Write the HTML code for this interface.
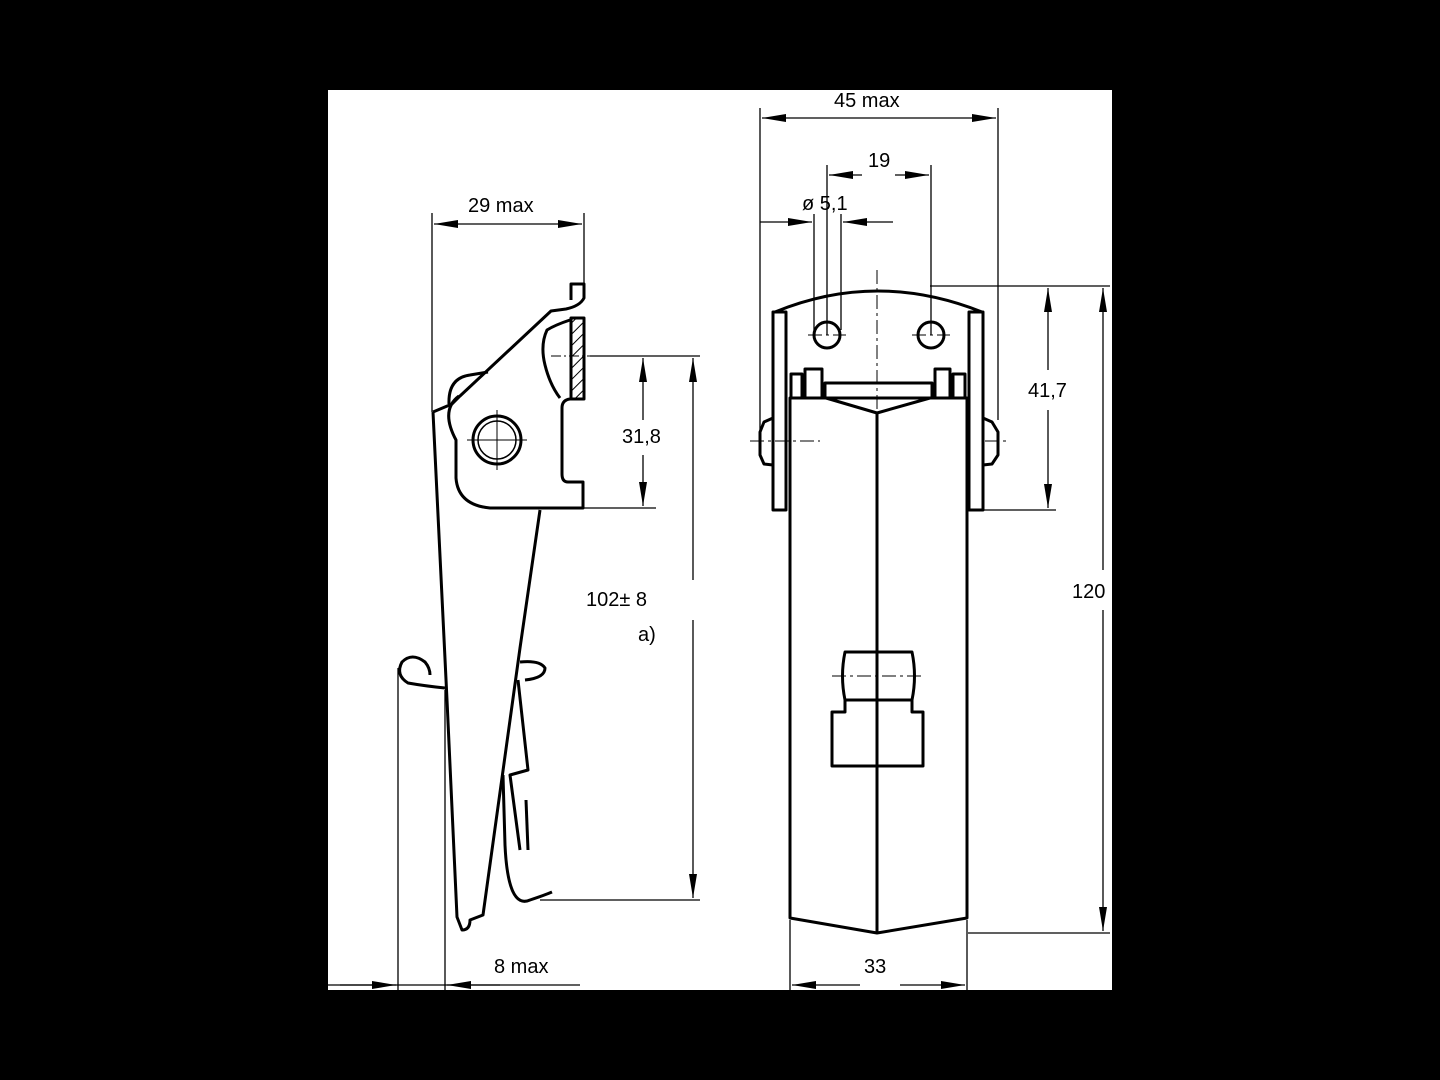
<!DOCTYPE html>
<html><head><meta charset="utf-8"><style>
html,body{margin:0;padding:0;background:#000;}
svg{display:block}
text{font-family:"Liberation Sans",sans-serif;font-size:20px;fill:#000}
</style></head><body>
<svg width="1440" height="1080" viewBox="0 0 1440 1080" xmlns="http://www.w3.org/2000/svg">
<defs>
<marker id="a" markerWidth="24" markerHeight="10" refX="24" refY="5" orient="auto" markerUnits="userSpaceOnUse"><path d="M0,1 L24,5 L0,9 Z" fill="#000"/></marker>
<pattern id="h" width="8" height="8" patternUnits="userSpaceOnUse" patternTransform="rotate(45)"><line x1="0" y1="0" x2="0" y2="8" stroke="#000" stroke-width="2"/></pattern>
</defs>
<rect x="0" y="0" width="1440" height="1080" fill="#000"/>
<rect x="328" y="90" width="784" height="900" fill="#fff"/>
<g fill="none" stroke="#000" stroke-width="1.3">
<!-- left dims -->
<line x1="432" y1="213" x2="432" y2="412"/>
<line x1="584" y1="213" x2="584" y2="290"/>
<line x1="508" y1="224" x2="434" y2="224" marker-end="url(#a)"/>
<line x1="508" y1="224" x2="582" y2="224" marker-end="url(#a)"/>
<line x1="590" y1="356" x2="700" y2="356"/>
<line x1="583" y1="508" x2="656" y2="508"/>
<line x1="540" y1="900" x2="700" y2="900"/>
<line x1="643" y1="420" x2="643" y2="358" marker-end="url(#a)"/>
<line x1="643" y1="455" x2="643" y2="506" marker-end="url(#a)"/>
<line x1="693" y1="580" x2="693" y2="358" marker-end="url(#a)"/>
<line x1="693" y1="620" x2="693" y2="898" marker-end="url(#a)"/>
<line x1="328" y1="985" x2="580" y2="985"/>
<line x1="340" y1="985" x2="396" y2="985" marker-end="url(#a)"/>
<line x1="500" y1="985" x2="447" y2="985" marker-end="url(#a)"/>
<line x1="398" y1="668" x2="398" y2="990"/>
<line x1="445" y1="690" x2="445" y2="990"/>
</g>
<g fill="none" stroke="#000" stroke-width="3" stroke-linejoin="round">
<!-- left body -->
<path d="M433,412 L452,404 L460,396 L551,311 L566,309 Q580,306 584,298 L584,284 L571,284 L571,300"/>
<path d="M433,412 L447,700 L457,917 L462,930 Q470,930 470,920 L483,915 L520,648 L540,510"/>
<path d="M459,396 Q440,410 456,440 L456,478 Q458,505 490,508 L583,508 L583,482 L568,482 Q562,482 562,474 L562,408 Q562,400 570,399 L584,399 L584,318 L571,318 L571,399"/>
<path d="M570,320 Q555,325 547,330 Q540,345 545,365 Q550,385 560,398"/>
<path d="M449,404 Q448,378 470,375 L488,372"/>
<circle cx="497" cy="440" r="24"/>
<circle cx="497" cy="440" r="19" stroke-width="1.5"/>
<!-- springs and hooks -->
<path d="M445,688 Q425,686 408,683 Q395,675 402,662 Q412,652 425,662 Q430,668 430,675"/>
<path d="M520,662 Q540,660 545,668 Q545,678 525,680"/>
<path d="M503,775 L505,845 Q508,910 530,900 Q545,895 552,892"/>
<path d="M518,680 L528,770 L510,775 L520,850"/>
<path d="M526,800 L528,850"/>
</g>
<rect x="571" y="318" width="13" height="81" fill="url(#h)" stroke="#000" stroke-width="2"/>
<g stroke="#000" stroke-width="1" fill="none">
<line x1="467" y1="440" x2="527" y2="440"/><line x1="497" y1="410" x2="497" y2="470"/>
<line x1="551" y1="356" x2="590" y2="356" stroke-dasharray="10,3,2,3"/>
</g>
<!-- right dims -->
<g fill="none" stroke="#000" stroke-width="1.3">
<line x1="760" y1="108" x2="760" y2="440"/>
<line x1="998" y1="108" x2="998" y2="420"/>
<line x1="878" y1="118" x2="762" y2="118" marker-end="url(#a)"/>
<line x1="878" y1="118" x2="996" y2="118" marker-end="url(#a)"/>
<line x1="827" y1="165" x2="827" y2="335"/>
<line x1="931" y1="165" x2="931" y2="335"/>
<line x1="862" y1="175" x2="829" y2="175" marker-end="url(#a)"/>
<line x1="895" y1="175" x2="929" y2="175" marker-end="url(#a)"/>
<line x1="814" y1="214" x2="814" y2="330"/>
<line x1="841" y1="214" x2="841" y2="330"/>
<line x1="760" y1="222" x2="812" y2="222" marker-end="url(#a)"/>
<line x1="893" y1="222" x2="843" y2="222" marker-end="url(#a)"/>
<line x1="930" y1="286" x2="1110" y2="286"/>
<line x1="983" y1="510" x2="1056" y2="510"/>
<line x1="968" y1="933" x2="1110" y2="933"/>
<line x1="1048" y1="370" x2="1048" y2="288" marker-end="url(#a)"/>
<line x1="1048" y1="410" x2="1048" y2="508" marker-end="url(#a)"/>
<line x1="1103" y1="570" x2="1103" y2="288" marker-end="url(#a)"/>
<line x1="1103" y1="610" x2="1103" y2="931" marker-end="url(#a)"/>
<line x1="790" y1="920" x2="790" y2="990"/>
<line x1="967" y1="920" x2="967" y2="990"/>
<line x1="860" y1="985" x2="792" y2="985" marker-end="url(#a)"/>
<line x1="900" y1="985" x2="965" y2="985" marker-end="url(#a)"/>
</g>
<g fill="none" stroke="#000" stroke-width="3" stroke-linejoin="round">
<rect x="773" y="312" width="13" height="198"/>
<rect x="969" y="312" width="14" height="198"/>
<path d="M775,312 Q877,270 982,312"/>
<circle cx="827" cy="335" r="13"/>
<circle cx="931" cy="335" r="13"/>
<path d="M790,398 L790,918 L877,933 L967,918 L967,398 L930,398 L877,413 L826,398 Z"/>
<line x1="877" y1="413" x2="877" y2="933"/>
<rect x="791" y="374" width="11" height="24"/>
<rect x="805" y="369" width="17" height="29"/>
<rect x="935" y="369" width="15" height="29"/>
<rect x="953" y="374" width="12" height="24"/>
<rect x="825" y="383" width="107" height="15"/>
<path d="M773,418 L764,422 L760,432 L760,455 L764,464 L773,465"/>
<path d="M983,418 L992,422 L998,432 L998,455 L992,464 L983,465"/>
<path d="M845,652 L912,652 Q917,676 912,700 L845,700 Q840,676 845,652 Z"/>
<path d="M845,700 L845,712 L832,712 L832,766 L923,766 L923,712 L912,712 L912,700"/>
</g>
<g stroke="#000" stroke-width="1" fill="none" stroke-dasharray="14,4,3,4">
<line x1="877" y1="270" x2="877" y2="410"/>
<line x1="750" y1="441" x2="820" y2="441"/>
<line x1="825" y1="398" x2="930" y2="398"/>
<line x1="985" y1="441" x2="1008" y2="441"/>
<line x1="808" y1="335" x2="846" y2="335"/><line x1="912" y1="335" x2="950" y2="335"/>
<line x1="832" y1="676" x2="925" y2="676"/>
</g>
<text x="468" y="212">29 max</text>
<text x="622" y="443">31,8</text>
<text x="586" y="606">102± 8</text>
<text x="638" y="641">a)</text>
<text x="494" y="973">8 max</text>
<text x="834" y="107">45 max</text>
<text x="868" y="167">19</text>
<text x="802" y="210">ø 5,1</text>
<text x="1028" y="397">41,7</text>
<text x="1072" y="598">120</text>
<text x="864" y="973">33</text>
</svg>
</body></html>
